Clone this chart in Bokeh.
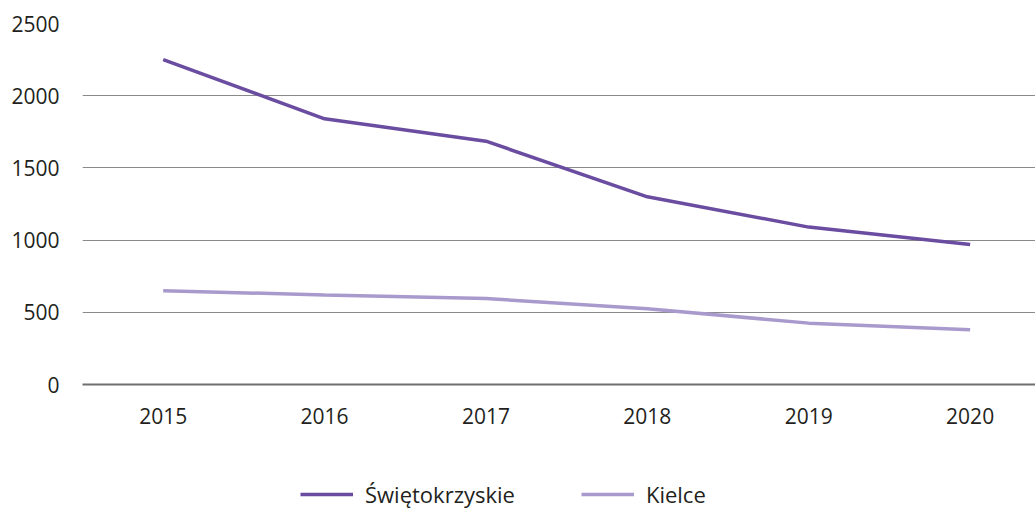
from bokeh.plotting import figure
from bokeh.models import Legend, LegendItem, FixedTicker, Range1d
from bokeh.layouts import column
from bokeh.embed import file_html
from bokeh.resources import INLINE

years = ["2015", "2016", "2017", "2018", "2019", "2020"]
swietokrzyskie = [2250, 1840, 1685, 1300, 1090, 970]
kielce = [650, 620, 595, 525, 425, 380]
y_ticks = [0, 500, 1000, 1500, 2000, 2500]
series_names = ["Świętokrzyskie", "Kielce"]
colors = ["#6a4ca0", "#a99acd"]

xs = [i + 0.5 for i in range(len(years))]

FONT = "Open Sans"
TXT = "#231f20"

p = figure(width=1035, height=440, output_backend="svg", toolbar_location=None,
           x_range=Range1d(0, 5.905), y_range=Range1d(0, 2500),
           min_border_left=82, min_border_right=0, min_border_top=23, min_border_bottom=56)
p.outline_line_color = None

p.line(xs, swietokrzyskie, line_color=colors[0], line_width=3.5)
p.line(xs, kielce, line_color=colors[1], line_width=3.5)

p.xgrid.grid_line_color = None
p.ygrid.grid_line_color = "#8a8a8a"
p.ygrid.grid_line_width = 1

p.yaxis.ticker = FixedTicker(ticks=y_ticks)
p.xaxis.ticker = FixedTicker(ticks=xs)
p.xaxis.major_label_overrides = {x: y for x, y in zip(xs, years)}
for ax in (p.xaxis[0], p.yaxis[0]):
    ax.major_tick_line_color = None
    ax.minor_tick_line_color = None
    ax.major_label_text_font = FONT
    ax.major_label_text_font_size = "21px"
    ax.major_label_text_color = TXT
p.yaxis.axis_line_color = None
p.yaxis.major_label_standoff = 17
p.xaxis.axis_line_color = "#6f6f6f"
p.xaxis.axis_line_width = 2
p.xaxis.major_label_standoff = 17

# legend strip
q = figure(width=1035, height=69, output_backend="svg", toolbar_location=None,
           x_range=Range1d(0, 1), y_range=Range1d(0, 1),
           min_border_left=0, min_border_right=0, min_border_top=0, min_border_bottom=0)
q.outline_line_color = None
q.axis.visible = False
q.grid.visible = False
lr1 = q.line([-10, -9], [-10, -9], line_color=colors[0], line_width=3.5)
lr2 = q.line([-10, -9], [-10, -9], line_color=colors[1], line_width=3.5)

legend = Legend(items=[LegendItem(label=series_names[0], renderers=[lr1]),
                       LegendItem(label=series_names[1], renderers=[lr2])],
                orientation="horizontal", location=(218, 0))
legend.label_text_font = FONT
legend.label_text_font_size = "22px"
legend.label_text_color = TXT
legend.glyph_width = 53
legend.label_standoff = 12
legend.spacing = 66
legend.border_line_color = None
legend.background_fill_alpha = 0
legend.margin = 0
legend.padding = 0
q.add_layout(legend, "center")

layout = column(p, q, spacing=0)
open("out.html", "w").write(file_html(layout, INLINE))
